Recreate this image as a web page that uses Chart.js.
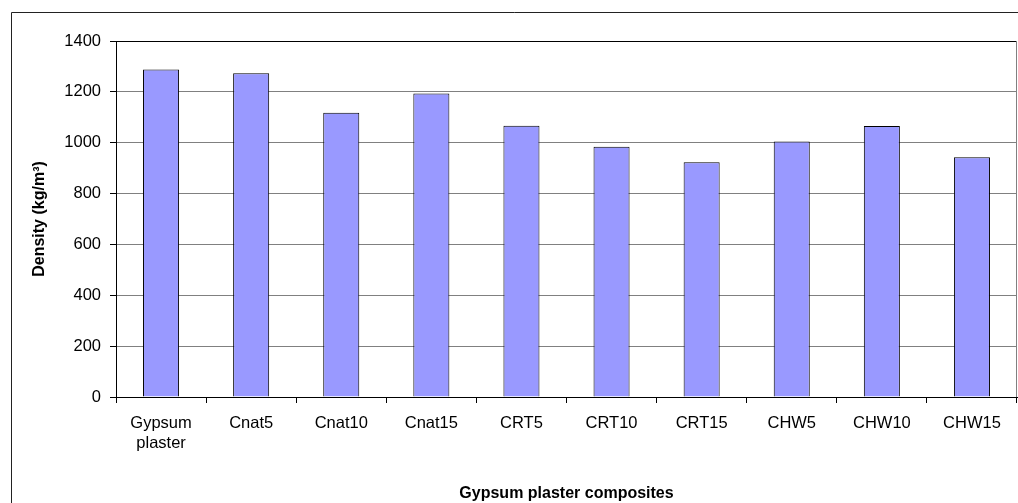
<!DOCTYPE html>
<html>
<head>
<meta charset="utf-8">
<title>Density of gypsum plaster composites</title>
<script src="https://cdn.jsdelivr.net/npm/chart.js@4.4.1/dist/chart.umd.min.js"></script>
<style>
    html, body { margin: 0; padding: 0; background: #fff; }
    canvas { display: block; }
</style>
</head>
<body>
<canvas id="densityChart" width="1018" height="503"></canvas>
<script>
// ==================================================
// DADOS
// ==================================================
const categories = [
    ['Gypsum', 'plaster'], 'Cnat5', 'Cnat10', 'Cnat15',
    'CRT5', 'CRT10', 'CRT15', 'CHW5', 'CHW10', 'CHW15'
];
const densities = [1288, 1273, 1118, 1194, 1067, 984, 923, 1005, 1066, 943];
const yMin = 0;
const yMax = 1400;
const yStep = 200;

const yTitle = 'Density (kg/m³)';
const xTitle = 'Gypsum plaster composites';

// ==================================================
// MOLDURA (borda externa + borda da área do gráfico)
// ==================================================
const framePlugin = {
    id: 'frame',
    beforeDraw(chart) {
        const c = chart.ctx;
        c.save();
        c.strokeStyle = '#222';
        c.lineWidth = 1;
        c.beginPath();
        c.moveTo(11.5, chart.height);
        c.lineTo(11.5, 12.5);
        c.lineTo(chart.width, 12.5);
        c.stroke();
        c.restore();
    },
    afterDatasetsDraw(chart) {
        const a = chart.chartArea;
        const c = chart.ctx;
        c.save();
        c.strokeStyle = '#808080';
        c.lineWidth = 1;
        c.beginPath();
        c.moveTo(Math.round(a.right) - 0.5, a.top);
        c.lineTo(Math.round(a.right) - 0.5, a.bottom);
        c.stroke();
        c.restore();
    }
};

const baseFont = { family: "'Liberation Sans', Arial, sans-serif", size: 16.5 };

new Chart(document.getElementById('densityChart'), {
    type: 'bar',
    data: {
        labels: categories,
        datasets: [{
            label: 'Density',
            data: densities,
            backgroundColor: '#9999ff',
            borderColor: '#000',
            borderWidth: 1,
            barPercentage: 0.5,
            categoryPercentage: 0.8
        }]
    },
    options: {
        responsive: false,
        animation: false,
        layout: { padding: { left: 0, top: 41, right: 1, bottom: 0 } },
        plugins: {
            legend: { display: false },
            tooltip: { enabled: false }
        },
        scales: {
            x: {
                afterFit(scale) { scale.height = 106; },
                grid: {
                    offset: true,
                    drawOnChartArea: false,
                    drawTicks: true,
                    tickLength: 6,
                    tickColor: '#000'
                },
                border: { color: '#000', width: 1 },
                ticks: {
                    color: '#000',
                    font: baseFont,
                    padding: 11,
                    maxRotation: 0,
                    autoSkip: false
                },
                title: {
                    display: true,
                    text: xTitle,
                    color: '#000',
                    font: { family: baseFont.family, size: 16, weight: 'bold' },
                    padding: { top: 0, bottom: 0 }
                }
            },
            y: {
                min: yMin,
                max: yMax,
                afterFit(scale) { scale.width = 116; },
                grid: {
                    color: ctx => (ctx.tick && ctx.tick.value === yMax) ? '#000' : '#808080',
                    tickLength: 6,
                    tickColor: '#000'
                },
                border: { color: '#000', width: 1 },
                ticks: {
                    stepSize: yStep,
                    color: '#000',
                    font: baseFont,
                    padding: 9,
                    callback: value => String(value)
                },
                title: {
                    display: true,
                    text: yTitle,
                    color: '#000',
                    font: { family: baseFont.family, size: 16, weight: 'bold' },
                    padding: { top: 30, bottom: 0 }
                }
            }
        }
    },
    plugins: [framePlugin]
});
</script>
</body>
</html>
